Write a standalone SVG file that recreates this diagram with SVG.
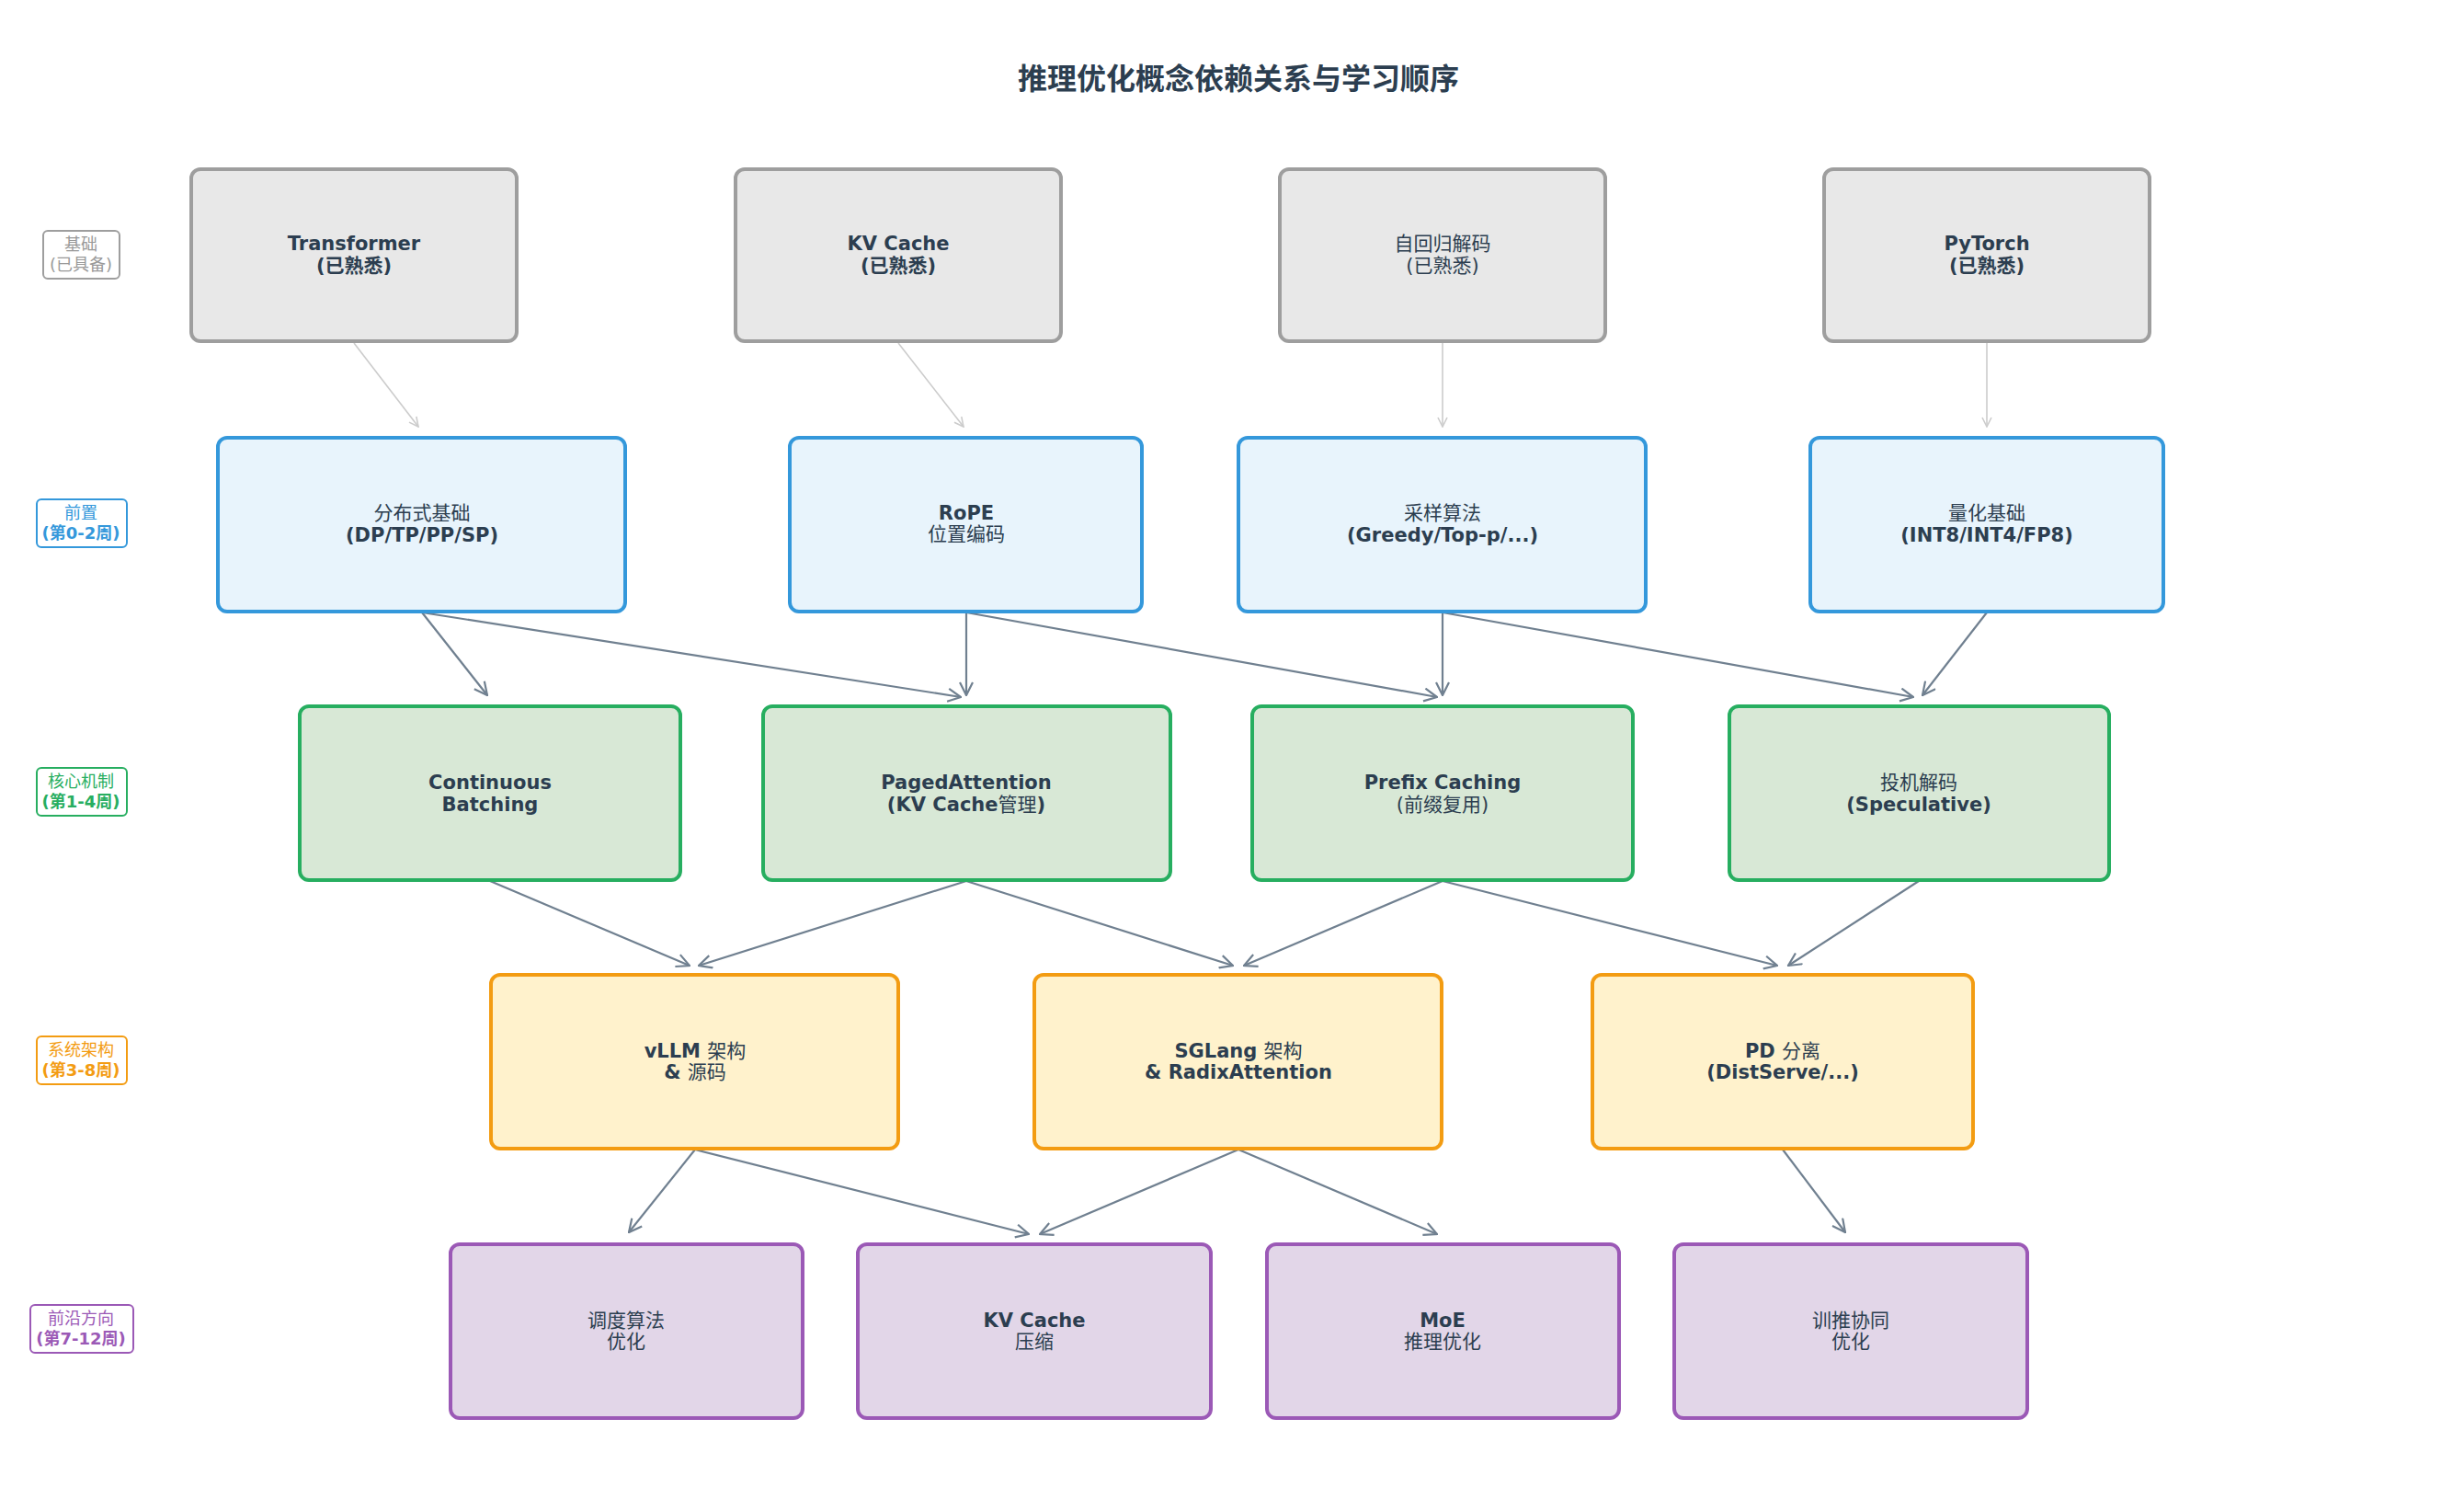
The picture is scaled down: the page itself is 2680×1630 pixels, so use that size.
<svg xmlns="http://www.w3.org/2000/svg" width="2680" height="1630" viewBox="0 0 2680 1630">
<style>
text{font-family:"DejaVu Sans","Noto Sans CJK SC",sans-serif;text-anchor:middle;}
.t{font-size:21px;fill:#2c3e50;}
.b{font-weight:bold;}
.n{font-weight:normal;}
.box{stroke-width:4;}
.g rect{fill:#e8e8e8;stroke:#9e9e9e;}
.bl rect{fill:#e8f4fc;stroke:#3498db;}
.gr rect{fill:#d8e8d6;stroke:#27ae60;}
.or rect{fill:#fff2cc;stroke:#f39c12;}
.pu rect{fill:#e2d6e8;stroke:#9b59b6;}
.lab rect{fill:#fff;stroke-width:2;}
.lab text{font-size:18px;}
.e1{stroke:#cccccc;stroke-width:1.6;fill:none;marker-end:url(#a1);}
.e2{stroke:#708090;stroke-width:2.2;fill:none;marker-end:url(#a2);}
</style>
<defs>
<marker id="a1" viewBox="0 0 12 12" refX="11" refY="6" markerWidth="12" markerHeight="12" markerUnits="userSpaceOnUse" orient="auto"><path d="M1,1 L11,6 L1,11" fill="none" stroke="#cccccc" stroke-width="1.6"/></marker>
<marker id="a2" viewBox="0 0 16 16" refX="15" refY="8" markerWidth="16" markerHeight="16" markerUnits="userSpaceOnUse" orient="auto"><path d="M1,1 L15,8 L1,15" fill="none" stroke="#708090" stroke-width="2.2"/></marker>
</defs>
<rect width="2680" height="1630" fill="#fff"/>
<text x="1347" y="97" style="font-family:'Noto Sans CJK SC',sans-serif;font-size:32px;font-weight:bold;fill:#2c3e50">推理优化概念依赖关系与学习顺序</text>

<g id="side-labels" class="lab">
<g id="lab-base"><rect x="47" y="251" width="83" height="52" rx="5" stroke="#9e9e9e"/><text x="88" y="272" fill="#999">基础</text><text x="88" y="294" fill="#999">(已具备)</text></g>
<g id="lab-pre"><rect x="40" y="543" width="98" height="52" rx="5" stroke="#3498db"/><text x="88" y="564" fill="#3498db">前置</text><text x="88" y="586" fill="#3498db" class="b">(第0-2周)</text></g>
<g id="lab-core"><rect x="40" y="835" width="98" height="52" rx="5" stroke="#27ae60"/><text x="88" y="856" fill="#27ae60">核心机制</text><text x="88" y="878" fill="#27ae60" class="b">(第1-4周)</text></g>
<g id="lab-sys"><rect x="40" y="1127" width="98" height="52" rx="5" stroke="#f39c12"/><text x="88" y="1148" fill="#f39c12">系统架构</text><text x="88" y="1170" fill="#f39c12" class="b">(第3-8周)</text></g>
<g id="lab-front"><rect x="33" y="1419" width="112" height="52" rx="5" stroke="#9b59b6"/><text x="88" y="1440" fill="#9b59b6">前沿方向</text><text x="88" y="1462" fill="#9b59b6" class="b">(第7-12周)</text></g>
</g>

<g id="connectors">
<path class="e1" d="M385,373 L455,464"/>
<path class="e1" d="M977,373 L1048,464"/>
<path class="e1" d="M1569,373 L1569,464"/>
<path class="e1" d="M2161,373 L2161,464"/>
<path class="e2" d="M459,666 L530,756"/>
<path class="e2" d="M459,666 L1045,758"/>
<path class="e2" d="M1051,666 L1051,756"/>
<path class="e2" d="M1051,666 L1563,758"/>
<path class="e2" d="M1569,666 L1569,756"/>
<path class="e2" d="M1569,666 L2081,758"/>
<path class="e2" d="M2161,666 L2091,756"/>
<path class="e2" d="M533,958 L750,1050"/>
<path class="e2" d="M1051,958 L760,1050"/>
<path class="e2" d="M1051,958 L1341,1050"/>
<path class="e2" d="M1569,958 L1353,1050"/>
<path class="e2" d="M1569,958 L1933,1050"/>
<path class="e2" d="M2087,958 L1945,1050"/>
<path class="e2" d="M756,1250 L684,1340"/>
<path class="e2" d="M756,1250 L1119,1342"/>
<path class="e2" d="M1347,1250 L1131,1342"/>
<path class="e2" d="M1347,1250 L1563,1342"/>
<path class="e2" d="M1939,1250 L2007,1340"/>
</g>

<g id="n-transformer" class="g box"><rect x="208" y="184" width="354" height="187" rx="10"/><text class="t b" x="385" y="272">Transformer</text><text class="t b" x="385" y="296">(已熟悉)</text></g>
<g id="n-kvcache" class="g box"><rect x="800" y="184" width="354" height="187" rx="10"/><text class="t b" x="977" y="272">KV Cache</text><text class="t b" x="977" y="296">(已熟悉)</text></g>
<g id="n-ar" class="g box"><rect x="1392" y="184" width="354" height="187" rx="10"/><text class="t" x="1569" y="272">自回归解码</text><text class="t" x="1569" y="296">(已熟悉)</text></g>
<g id="n-pytorch" class="g box"><rect x="1984" y="184" width="354" height="187" rx="10"/><text class="t b" x="2161" y="272">PyTorch</text><text class="t b" x="2161" y="296">(已熟悉)</text></g>

<g id="n-dist" class="bl box"><rect x="237" y="476" width="443" height="189" rx="10"/><text class="t" x="459" y="565">分布式基础</text><text class="t b" x="459" y="589">(DP/TP/PP/SP)</text></g>
<g id="n-rope" class="bl box"><rect x="859" y="476" width="383" height="189" rx="10"/><text class="t b" x="1051" y="565">RoPE</text><text class="t" x="1051" y="588">位置编码</text></g>
<g id="n-sample" class="bl box"><rect x="1347" y="476" width="443" height="189" rx="10"/><text class="t" x="1569" y="565">采样算法</text><text class="t b" x="1569" y="589">(Greedy/Top-p/...)</text></g>
<g id="n-quant" class="bl box"><rect x="1969" y="476" width="384" height="189" rx="10"/><text class="t" x="2161" y="565">量化基础</text><text class="t b" x="2161" y="589">(INT8/INT4/FP8)</text></g>

<g id="n-cb" class="gr box"><rect x="326" y="768" width="414" height="189" rx="10"/><text class="t b" x="533" y="858">Continuous</text><text class="t b" x="533" y="882">Batching</text></g>
<g id="n-paged" class="gr box"><rect x="830" y="768" width="443" height="189" rx="10"/><text class="t b" x="1051" y="858">PagedAttention</text><text class="t b" x="1051" y="882">(KV Cache<tspan class="n">管理</tspan>)</text></g>
<g id="n-prefix" class="gr box"><rect x="1362" y="768" width="414" height="189" rx="10"/><text class="t b" x="1569" y="858">Prefix Caching</text><text class="t" x="1569" y="882">(前缀复用)</text></g>
<g id="n-spec" class="gr box"><rect x="1881" y="768" width="413" height="189" rx="10"/><text class="t" x="2087" y="858">投机解码</text><text class="t b" x="2087" y="882">(Speculative)</text></g>

<g id="n-vllm" class="or box"><rect x="534" y="1060" width="443" height="189" rx="10"/><text class="t b" x="756" y="1150">vLLM <tspan class="n">架构</tspan></text><text class="t b" x="756" y="1173">&amp; <tspan class="n">源码</tspan></text></g>
<g id="n-sglang" class="or box"><rect x="1125" y="1060" width="443" height="189" rx="10"/><text class="t b" x="1347" y="1150">SGLang <tspan class="n">架构</tspan></text><text class="t b" x="1347" y="1173">&amp; RadixAttention</text></g>
<g id="n-pd" class="or box"><rect x="1732" y="1060" width="414" height="189" rx="10"/><text class="t b" x="1939" y="1150">PD <tspan class="n">分离</tspan></text><text class="t b" x="1939" y="1173">(DistServe/...)</text></g>

<g id="n-sched" class="pu box"><rect x="490" y="1353" width="383" height="189" rx="10"/><text class="t" x="681" y="1443">调度算法</text><text class="t" x="681" y="1466">优化</text></g>
<g id="n-kvc" class="pu box"><rect x="933" y="1353" width="384" height="189" rx="10"/><text class="t b" x="1125" y="1443">KV Cache</text><text class="t" x="1125" y="1466">压缩</text></g>
<g id="n-moe" class="pu box"><rect x="1378" y="1353" width="383" height="189" rx="10"/><text class="t b" x="1569" y="1443">MoE</text><text class="t" x="1569" y="1466">推理优化</text></g>
<g id="n-train" class="pu box"><rect x="1821" y="1353" width="384" height="189" rx="10"/><text class="t" x="2013" y="1443">训推协同</text><text class="t" x="2013" y="1466">优化</text></g>
</svg>
